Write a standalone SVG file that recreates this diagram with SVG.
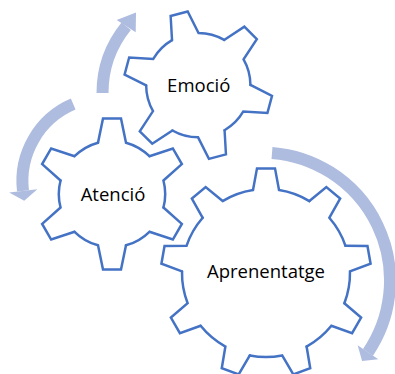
<svg xmlns="http://www.w3.org/2000/svg" xmlns:xlink="http://www.w3.org/1999/xlink" width="395" height="374" viewBox="0 0 395 374">
  <style>
    .band { fill: none; stroke: #AEBCDF; stroke-width: 12; stroke-linecap: butt; }
    .head { fill: #AEBCDF; stroke: none; }
    .body { fill: #FFFFFF; stroke: none; }
    .toothFill { fill: #FFFFFF; stroke: none; }
    .toothEdge { fill: none; stroke: #4472C4; stroke-width: 2.5; stroke-linejoin: miter; stroke-linecap: round; }
    .label { font-family: "Open Sans", "Liberation Sans", sans-serif; font-size: 18.5px; fill: #000000; text-anchor: middle; }
  </style>
  <defs>
    <!-- one tooth plus the root arc up to the next tooth; 6-tooth gear: R 76, root 53.2 -->
    <path id="tooth6" d="M-14,-51.325 L-9,-75.465 L9,-75.465 L14,-51.325 A53.2,53.2 0 0 1 37.449,-37.787"/>
    <!-- 9-tooth gear: R 105, root 84 -->
    <path id="tooth9" d="M-13,-82.988 L-9,-104.614 L9,-104.614 L13,-82.988 A84,84 0 0 1 43.386,-71.929"/>
  </defs>

  <!-- circular arrows -->
  <g id="connectors">
    <path class="band" d="M102.5,93 A106,106 0 0 1 126.2,26.2"/>
    <polygon class="head" points="116.7,20 136,12.5 135.7,32.3"/>
    <path class="band" d="M73.2,104.1 A83.6,83.6 0 0 0 23,190.9"/>
    <polygon class="head" points="37.4,189.2 24.2,200.8 9.2,192.5"/>
    <path class="band" d="M272,152.9 A128,128 0 0 1 368,352.3"/>
    <polygon class="head" points="357.65,345.3 362.1,361 378.35,359.3"/>
  </g>

  <g id="gear-aprenentatge" transform="translate(266,273)">
    <circle class="body" r="84"/>
    <g class="toothFill">
      <use xlink:href="#tooth9"/>
      <use xlink:href="#tooth9" transform="rotate(40)"/>
      <use xlink:href="#tooth9" transform="rotate(80)"/>
      <use xlink:href="#tooth9" transform="rotate(120)"/>
      <use xlink:href="#tooth9" transform="rotate(160)"/>
      <use xlink:href="#tooth9" transform="rotate(200)"/>
      <use xlink:href="#tooth9" transform="rotate(240)"/>
      <use xlink:href="#tooth9" transform="rotate(280)"/>
      <use xlink:href="#tooth9" transform="rotate(320)"/>
    </g>
    <g class="toothEdge">
      <use xlink:href="#tooth9"/>
      <use xlink:href="#tooth9" transform="rotate(40)"/>
      <use xlink:href="#tooth9" transform="rotate(80)"/>
      <use xlink:href="#tooth9" transform="rotate(120)"/>
      <use xlink:href="#tooth9" transform="rotate(160)"/>
      <use xlink:href="#tooth9" transform="rotate(200)"/>
      <use xlink:href="#tooth9" transform="rotate(240)"/>
      <use xlink:href="#tooth9" transform="rotate(280)"/>
      <use xlink:href="#tooth9" transform="rotate(320)"/>
    </g>
    <text class="label" x="0" y="5.3">Aprenentatge</text>
  </g>

  <g id="gear-atencio" transform="translate(112,194)">
    <circle class="body" r="53.2"/>
    <g class="toothFill">
      <use xlink:href="#tooth6"/>
      <use xlink:href="#tooth6" transform="rotate(60)"/>
      <use xlink:href="#tooth6" transform="rotate(120)"/>
      <use xlink:href="#tooth6" transform="rotate(180)"/>
      <use xlink:href="#tooth6" transform="rotate(240)"/>
      <use xlink:href="#tooth6" transform="rotate(300)"/>
    </g>
    <g class="toothEdge">
      <use xlink:href="#tooth6"/>
      <use xlink:href="#tooth6" transform="rotate(60)"/>
      <use xlink:href="#tooth6" transform="rotate(120)"/>
      <use xlink:href="#tooth6" transform="rotate(180)"/>
      <use xlink:href="#tooth6" transform="rotate(240)"/>
      <use xlink:href="#tooth6" transform="rotate(300)"/>
    </g>
    <text class="label" x="1" y="6.7">Atenció</text>
  </g>

  <g id="gear-emocio" transform="translate(198.3,85.2)">
    <circle class="body" r="52.1"/>
    <g transform="rotate(-15) scale(0.98)">
      <g class="toothFill">
        <use xlink:href="#tooth6"/>
        <use xlink:href="#tooth6" transform="rotate(60)"/>
        <use xlink:href="#tooth6" transform="rotate(120)"/>
        <use xlink:href="#tooth6" transform="rotate(180)"/>
        <use xlink:href="#tooth6" transform="rotate(240)"/>
        <use xlink:href="#tooth6" transform="rotate(300)"/>
      </g>
      <g class="toothEdge">
        <use xlink:href="#tooth6"/>
        <use xlink:href="#tooth6" transform="rotate(60)"/>
        <use xlink:href="#tooth6" transform="rotate(120)"/>
        <use xlink:href="#tooth6" transform="rotate(180)"/>
        <use xlink:href="#tooth6" transform="rotate(240)"/>
        <use xlink:href="#tooth6" transform="rotate(300)"/>
      </g>
    </g>
    <text class="label" x="0.4" y="6.5">Emoció</text>
  </g>
</svg>
